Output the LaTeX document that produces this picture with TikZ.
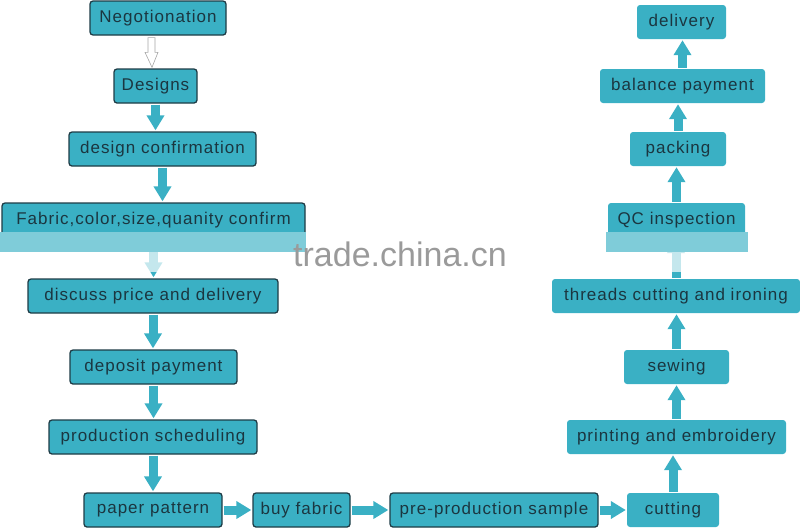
\documentclass[tikz,border=0pt]{standalone}
\usepackage{fontspec}
\setmainfont{Liberation Sans}[LetterSpace=6]
\newfontfamily\markfont{Liberation Sans}
\usepackage{xcolor}
\usepackage{tikz}
\usetikzlibrary{arrows.meta,positioning,calc}
\definecolor{flowteal}{HTML}{3AB0C4}
\definecolor{flowink}{HTML}{1B3640}
\definecolor{flowedge}{HTML}{1E3C46}
\definecolor{markgray}{HTML}{9A9A9A}

\tikzset{
  stepbox/.style={rectangle,rounded corners=3pt,fill=flowteal,text=flowink,
    minimum height=34pt,inner sep=0pt,font=\fontsize{17}{20}\selectfont},
  leftbox/.style={stepbox,draw=flowedge,line width=1.3pt},
  rightbox/.style={stepbox},
  flow/.style={draw=flowteal,line width=9pt,shorten <=1pt,shorten >=1pt,
    -{Triangle[length=15pt,width=17pt]}},
  hollow/.style={draw=gray!70,fill=white,line width=0.6pt},
  band/.style={fill=flowteal!65!white}
}

\begin{document}
\begin{tikzpicture}[x=1pt,y=-1pt]
  \useasboundingbox (0,0) rectangle (800,528);
  % left column
  \node[leftbox,minimum width=136pt] (neg)  at (158,18)    {Negotionation};
  \node[leftbox,minimum width=83pt]  (des)  at (155.5,86)  {Designs};
  \node[leftbox,minimum width=187pt] (conf) at (162.5,149) {design confirmation};
  \node[leftbox,minimum width=303pt] (fab)  at (153.5,220) {Fabric,color,size,quanity confirm};
  \node[leftbox,minimum width=250pt] (disc) at (153,296)   {discuss price and delivery};
  \node[leftbox,minimum width=167pt] (dep)  at (153.5,367) {deposit payment};
  \node[leftbox,minimum width=208pt] (sched) at (153,437)  {production scheduling};
  % bottom row
  \node[leftbox,minimum width=138pt] (pat)  at (153,510)   {paper pattern};
  \node[leftbox,minimum width=97pt]  (buy)  at (301.5,510) {buy fabric};
  \node[leftbox,minimum width=208pt] (pre)  at (494,510)   {pre-production sample};
  \node[rightbox,minimum width=92pt] (cut)  at (673,510)   {cutting};
  % right column
  \node[rightbox,minimum width=219pt] (print) at (676.5,437) {printing and embroidery};
  \node[rightbox,minimum width=105pt] (sew)   at (676.5,367) {sewing};
  \node[rightbox,minimum width=248pt] (iron)  at (676,296)   {threads cutting and ironing};
  \node[rightbox,minimum width=137pt] (qc)    at (676.5,220) {QC inspection};
  \node[rightbox,minimum width=96pt]  (pack)  at (678,149)   {packing};
  \node[rightbox,minimum width=165pt] (bal)   at (682.5,86)  {balance payment};
  \node[rightbox,minimum width=89pt]  (deliv) at (681.5,22)  {delivery};

  % hollow first arrow
  \draw[hollow] ($(neg.south)+(-10,2)$) -- ($(neg.south |- des.north)+(-10,-16)$)
    -- ++(-3,0) -- ($(neg.south |- des.north)+(-6,-1)$) -- ++(6,-15)
    -- ++(-3,0) -- ($(neg.south)+(-3,2)$) -- cycle;

  \draw[flow] (des.south) -- (des.south |- conf.north);
  \draw[flow] (conf.south) -- (conf.south |- fab.north);
  \draw[flow] (fab.south) -- (fab.south |- disc.north);
  \draw[flow] (disc.south) -- (disc.south |- dep.north);
  \draw[flow] (dep.south) -- (dep.south |- sched.north);
  \draw[flow] (sched.south) -- (sched.south |- pat.north);
  \draw[flow] (pat.east) -- (buy.west);
  \draw[flow] (buy.east) -- (pre.west);
  \draw[flow] (pre.east) -- (cut.west);
  \draw[flow] (cut.north) -- (cut.north |- print.south);
  \draw[flow] (print.north) -- (print.north |- sew.south);
  \draw[flow] (sew.north) -- (sew.north |- iron.south);
  \draw[flow] (iron.north) -- (iron.north |- qc.south);
  \draw[flow] (qc.north) -- (qc.north |- pack.south);
  \draw[flow] (pack.north) -- (pack.north |- bal.south);
  \draw[flow] (bal.north) -- (bal.north |- deliv.south);

  % watermark band
  \fill[band] (0,232) rectangle (306,252);
  \fill[band] (606,232) rectangle (748,252);
  \fill[white,opacity=0.7] (140,252) rectangle (170,272);
  \fill[white,opacity=0.7] (665,252) rectangle (695,272);
  \node[text=markgray,font=\markfont\fontsize{34}{36}\selectfont] (mark) at (400,254) {trade.china.cn};
\end{tikzpicture}
\end{document}
